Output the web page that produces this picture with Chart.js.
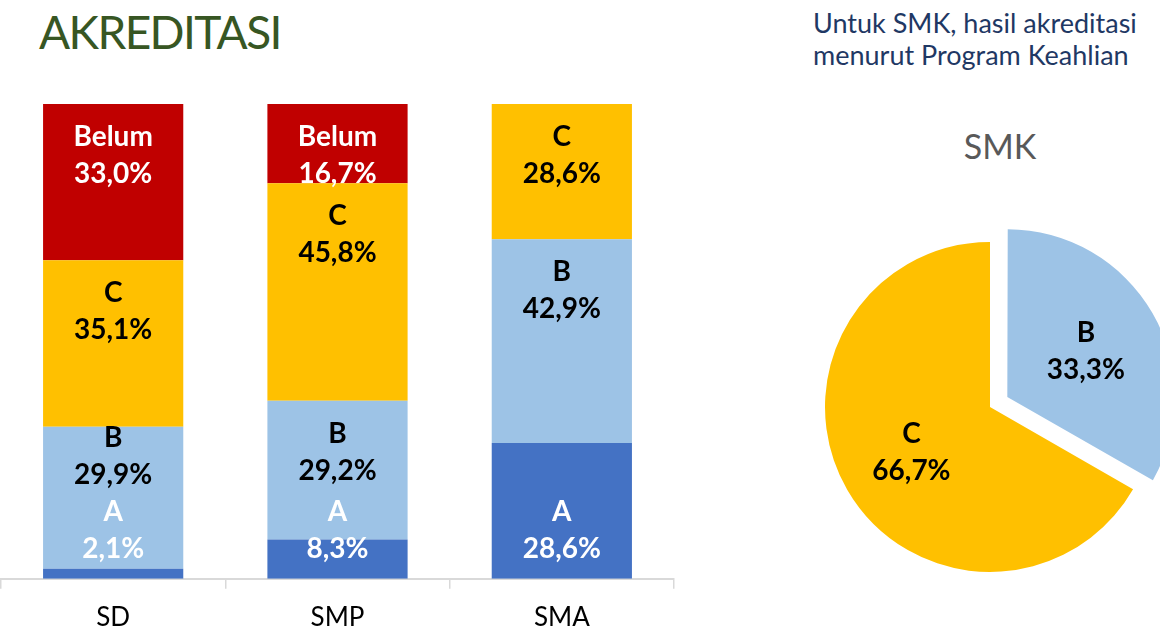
<!DOCTYPE html>
<html lang="id">
<head>
    <meta charset="UTF-8">
    <title>Akreditasi</title>
    <script src="https://cdn.jsdelivr.net/npm/chart.js"></script>
    <style>
        html, body { margin: 0; padding: 0; width: 1160px; height: 627px; overflow: hidden; background: #fff; font-family: 'Lato', sans-serif; }
        .judul { position: absolute; left: 39px; top: 8px; font-size: 46px; letter-spacing: -1.6px; line-height: 48px; color: #375623; }
        .catatan { position: absolute; left: 813px; top: 7px; font-size: 27px; line-height: 32px; color: #1F3864; }
        .smk { position: absolute; left: 900px; width: 200px; top: 126px; text-align: center; font-size: 34px; line-height: 40px; color: #595959; }
        .kotak-bar { position: absolute; left: 0; top: 94px; width: 676px; height: 552px; }
        .kotak-pie { position: absolute; left: 810px; top: 227px; width: 360px; height: 360px; }
    </style>
</head>
<body>
    <div class="judul">AKREDITASI</div>
    <div class="catatan">Untuk SMK, hasil akreditasi<br>menurut Program Keahlian</div>
    <div class="smk">SMK</div>
    <div class="kotak-bar"><canvas id="grafikBar"></canvas></div>
    <div class="kotak-pie"><canvas id="grafikPie"></canvas></div>

<script>
    // data akreditasi (%)
    const jenjang = ['SD', 'SMP', 'SMA']
    const nilaiA = [2.1, 8.3, 28.6]
    const nilaiB = [29.9, 29.2, 42.9]
    const nilaiC = [35.1, 45.8, 28.6]
    const nilaiBelum = [33.0, 16.7, null]

    const labelSmk = ['B', 'C']
    const nilaiSmk = [33.3, 66.7]

    const warnaA = '#4472C4'
    const warnaB = '#9DC3E6'
    const warnaC = '#FFC000'
    const warnaBelum = '#C00000'

    const fontLabel = 'bold 28px Lato'
    const jarakBaris = 37

    function formatPersen(v) {
        return v.toFixed(1).replace('.', ',') + '%'
    }

    function tulis(ctx, teks, x, y, warna) {
        ctx.fillStyle = warna
        ctx.fillText(teks, x, y)
    }

    // label di dalam batang, digeser ke atas kalau bertabrakan
    const labelBatang = {
        id: 'labelBatang',
        afterDatasetsDraw(chart) {
            const ctx = chart.ctx
            ctx.save()
            ctx.font = fontLabel
            ctx.textAlign = 'center'
            ctx.textBaseline = 'middle'
            jenjang.forEach((j, i) => {
                let batasAtas = null
                chart.data.datasets.forEach((ds, d) => {
                    const v = ds.data[i]
                    if (v == null) return
                    const el = chart.getDatasetMeta(d).data[i]
                    let baris1
                    if (d === 0) {
                        baris1 = el.base - 30 - jarakBaris
                    } else {
                        baris1 = el.y + 33
                    }
                    if (batasAtas !== null && baris1 + jarakBaris * 2 > batasAtas) {
                        baris1 = batasAtas - jarakBaris * 2
                    }
                    batasAtas = baris1
                    tulis(ctx, ds.label, el.x, baris1, ds.warnaTeks)
                    tulis(ctx, formatPersen(v), el.x, baris1 + jarakBaris, ds.warnaTeks)
                })
            })
            ctx.restore()
        }
    }

    new Chart(document.getElementById('grafikBar'), {
        type: 'bar',
        data: {
            labels: jenjang,
            datasets: [
                { label: 'A', data: nilaiA, backgroundColor: warnaA, warnaTeks: '#ffffff' },
                { label: 'B', data: nilaiB, backgroundColor: warnaB, warnaTeks: '#000000' },
                { label: 'C', data: nilaiC, backgroundColor: warnaC, warnaTeks: '#000000' },
                { label: 'Belum', data: nilaiBelum, backgroundColor: warnaBelum, warnaTeks: '#ffffff' }
            ]
        },
        options: {
            responsive: true,
            maintainAspectRatio: false,
            animation: false,
            categoryPercentage: 1,
            barPercentage: 0.625,
            layout: { padding: { top: 10, left: 1, right: 2, bottom: 0 } },
            plugins: {
                legend: { display: false },
                tooltip: { enabled: false }
            },
            scales: {
                x: {
                    stacked: true,
                    grid: { offset: true, drawOnChartArea: false, drawTicks: true, tickLength: 10, color: '#D9D9D9', lineWidth: 1.5 },
                    border: { display: true, color: '#D9D9D9', width: 2 },
                    ticks: { color: '#000000', padding: 13, font: { family: 'Lato', size: 26 } }
                },
                y: {
                    stacked: true,
                    display: false,
                    min: 0,
                    max: 100
                }
            }
        },
        plugins: [labelBatang]
    })

    // potongan B ditarik keluar kira-kira 20px
    const geserPie = 20

    const labelPie = {
        id: 'labelPie',
        afterDatasetsDraw(chart) {
            const ctx = chart.ctx
            ctx.save()
            ctx.font = fontLabel
            ctx.textAlign = 'center'
            ctx.textBaseline = 'middle'
            chart.getDatasetMeta(0).data.forEach((arc, i) => {
                const tengah = (arc.startAngle + arc.endAngle) / 2
                const geser = i === 0 ? geserPie : 0
                const r = arc.outerRadius * 0.55 + geser
                const x = arc.x + Math.cos(tengah) * r
                const y = arc.y + Math.sin(tengah) * r
                tulis(ctx, labelSmk[i], x, y - jarakBaris / 2, '#000000')
                tulis(ctx, formatPersen(nilaiSmk[i]), x, y + jarakBaris / 2, '#000000')
            })
            ctx.restore()
        }
    }

    new Chart(document.getElementById('grafikPie'), {
        type: 'pie',
        data: {
            labels: labelSmk,
            datasets: [{
                data: nilaiSmk,
                backgroundColor: [warnaB, warnaC],
                borderWidth: 0,
                offset: [geserPie * 4, 0]
            }]
        },
        options: {
            responsive: true,
            maintainAspectRatio: false,
            animation: false,
            radius: 165,
            plugins: {
                legend: { display: false },
                tooltip: { enabled: false }
            }
        },
        plugins: [labelPie]
    })
</script>
</body>
</html>
